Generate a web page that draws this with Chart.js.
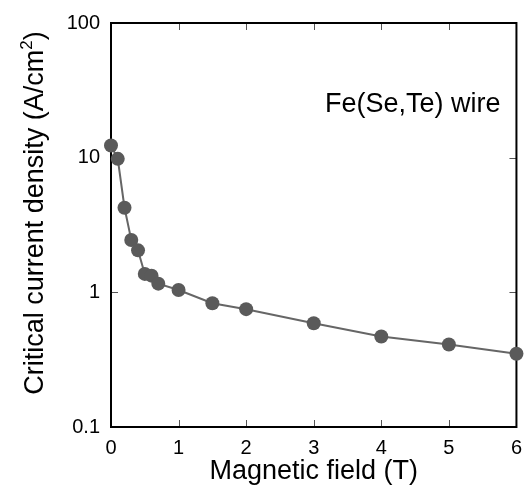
<!DOCTYPE html>
<html>
<head>
<meta charset="utf-8">
<script src="https://cdn.jsdelivr.net/npm/chart.js@4.4.0/dist/chart.umd.min.js"></script>
<style>
  html, body { margin: 0; background: #fff; }
  #wrap { width: 531px; height: 490px; }
</style>
</head>
<body>
<div id="wrap"><canvas id="chart"></canvas></div>
<script>
// Jc vs field
const fieldT = [0, 0.1, 0.2, 0.3, 0.4, 0.5, 0.6, 0.7, 1, 1.5, 2, 3, 4, 5, 6];
const jc = [12.3, 9.8, 4.25, 2.45, 2.05, 1.37, 1.33, 1.16, 1.04, 0.83, 0.75, 0.59, 0.47, 0.41, 0.35];
const xTicks = [0, 1, 2, 3, 4, 5, 6];
const yTicks = [0.1, 1, 10, 100];

const FONT = "'Liberation Sans', Arial, sans-serif";

// box around the plot + inward ticks on all four sides
const framePlugin = {
  id: "frame",
  beforeDatasetsDraw(chart) {
    const { ctx, chartArea: a, scales } = chart;
    ctx.save();
    ctx.strokeStyle = "#555";
    ctx.lineWidth = 1;
    ctx.beginPath();
    xTicks.forEach(v => {
      const px = Math.round(scales.x.getPixelForValue(v)) + 0.5;
      ctx.moveTo(px, a.bottom); ctx.lineTo(px, a.bottom - 7);
      ctx.moveTo(px, a.top); ctx.lineTo(px, a.top + 7);
    });
    yTicks.forEach(v => {
      const py = Math.round(scales.y.getPixelForValue(v)) + 0.5;
      ctx.moveTo(a.left, py); ctx.lineTo(a.left + 7, py);
      ctx.moveTo(a.right, py); ctx.lineTo(a.right - 7, py);
    });
    ctx.stroke();
    ctx.strokeStyle = "#000";
    ctx.lineWidth = 2;
    ctx.strokeRect(a.left, a.top, a.right - a.left, a.bottom - a.top);
    ctx.restore();
  },
  afterDatasetsDraw(chart) {
    const { ctx, chartArea: a } = chart;
    ctx.save();
    ctx.fillStyle = "#000";
    ctx.font = "27px " + FONT;
    ctx.textAlign = "right";
    ctx.textBaseline = "alphabetic";
    ctx.fillText("Fe(Se,Te) wire", a.right - 16, 112);

    // y axis title with a real superscript
    const main = "Critical current density (A/cm";
    ctx.translate(43, 213);
    ctx.rotate(-Math.PI / 2);
    ctx.textAlign = "left";
    const wMain = ctx.measureText(main).width;
    ctx.font = "17px " + FONT;
    const wSup = ctx.measureText("2").width;
    ctx.font = "27px " + FONT;
    const wEnd = ctx.measureText(")").width;
    let x0 = -(wMain + wSup + wEnd) / 2;
    ctx.fillText(main, x0, 0);
    ctx.font = "17px " + FONT;
    ctx.fillText("2", x0 + wMain, -11);
    ctx.font = "27px " + FONT;
    ctx.fillText(")", x0 + wMain + wSup, 0);
    ctx.restore();
  }
};

new Chart(document.getElementById("chart"), {
  type: "line",
  data: {
    datasets: [{
      data: fieldT.map((x, i) => ({ x: x, y: jc[i] })),
      borderColor: "#666",
      borderWidth: 2,
      backgroundColor: "#5a5a5a",
      pointBackgroundColor: "#5a5a5a",
      pointBorderColor: "#5a5a5a",
      pointRadius: 7,
      pointBorderWidth: 0,
      tension: 0,
      clip: false
    }]
  },
  options: {
    responsive: true,
    maintainAspectRatio: false,
    animation: false,
    layout: { padding: { left: 0, right: 13, top: 20, bottom: 0 } },
    plugins: { legend: { display: false }, tooltip: { enabled: false } },
    scales: {
      x: {
        type: "linear",
        min: 0,
        max: 6,
        afterBuildTicks: s => { s.ticks = xTicks.map(v => ({ value: v })); },
        afterFit: s => { s.height = 63; },
        grid: { display: false, drawTicks: false },
        border: { display: false },
        ticks: { color: "#000", font: { family: FONT, size: 20 }, padding: 9, maxRotation: 0 },
        title: { display: true, text: "Magnetic field (T)", color: "#000",
                 font: { family: FONT, size: 27 }, padding: { top: 0, bottom: 2 } }
      },
      y: {
        type: "logarithmic",
        min: 0.1,
        max: 100,
        afterBuildTicks: s => { s.ticks = yTicks.map(v => ({ value: v })); },
        afterFit: s => { s.width = 111; },
        grid: { display: false, drawTicks: false },
        border: { display: false },
        ticks: { color: "#000", font: { family: FONT, size: 20 }, padding: 11,
                 callback: v => String(v) },
        title: { display: false }
      }
    }
  },
  plugins: [framePlugin]
});
</script>
</body>
</html>
